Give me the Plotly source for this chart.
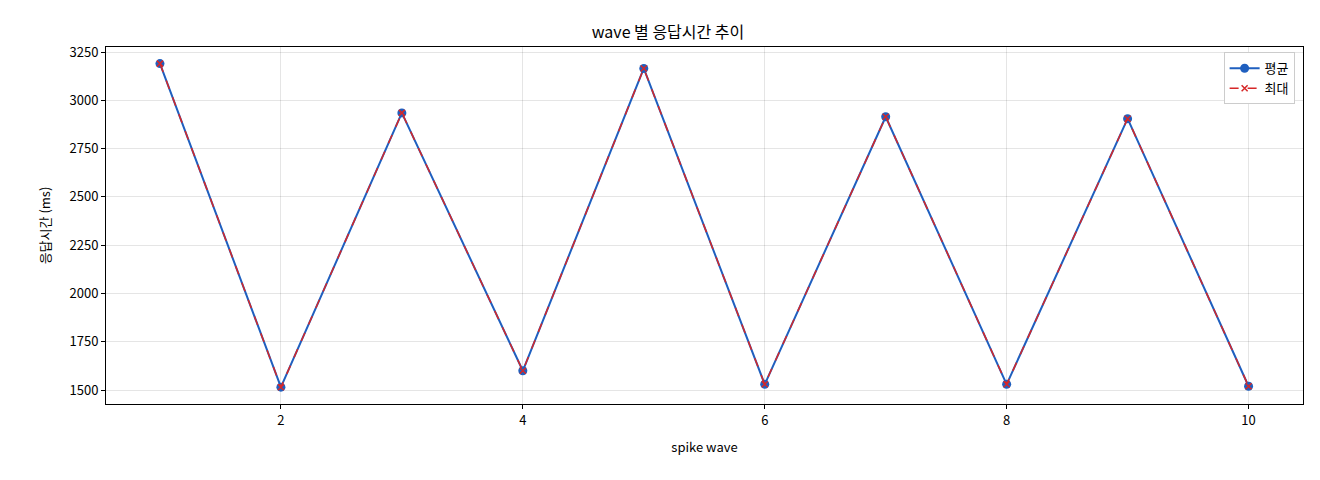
import plotly.graph_objects as go

waves = [1, 2, 3, 4, 5, 6, 7, 8, 9, 10]
avg_ms = [3190, 1515, 2935, 1600, 3165, 1530, 2915, 1530, 2905, 1520]
max_ms = [3190, 1515, 2935, 1600, 3165, 1530, 2915, 1530, 2905, 1520]

fig = go.Figure()
fig.add_trace(go.Scatter(x=waves, y=avg_ms, name="평균", mode="lines+markers",
                         line=dict(color="#1f5fbf", width=2),
                         marker=dict(symbol="circle", size=9, color="#1f5fbf")))
fig.add_trace(go.Scatter(x=waves, y=max_ms, name="최대", mode="lines+markers",
                         line=dict(color="#d62728", width=1.5, dash="dash"),
                         marker=dict(symbol="x-thin", size=6, color="#d62728",
                                     line=dict(color="#d62728", width=1.5))))

axis = dict(showline=True, mirror=True, linecolor="black", linewidth=1,
            ticks="outside", ticklen=4, tickcolor="black",
            showgrid=True, gridcolor="rgba(0,0,0,0.1)", zeroline=False,
            tickfont=dict(size=13, color="black"))
fig.update_layout(
    width=1320, height=480,
    paper_bgcolor="white", plot_bgcolor="white",
    font=dict(family="Noto Sans CJK KR", color="black"),
    title=dict(text="wave 별 응답시간 추이", x=0.5, y=0.96, xanchor="center",
               font=dict(size=16)),
    margin=dict(l=98, r=25, t=39, b=84),
    xaxis=dict(axis, range=[0.554, 10.45], tickvals=[2, 4, 6, 8, 10],
               title=dict(text="spike wave", font=dict(size=13))),
    yaxis=dict(axis, range=[1428, 3276], tickvals=[1500, 1750, 2000, 2250, 2500, 2750, 3000, 3250],
               title=dict(text="응답시간 (ms)", font=dict(size=13))),
    legend=dict(x=0.993, y=0.985, xanchor="right", yanchor="top",
                bordercolor="#cccccc", borderwidth=1, bgcolor="white",
                font=dict(size=13)),
)
fig.write_html("out.html")
